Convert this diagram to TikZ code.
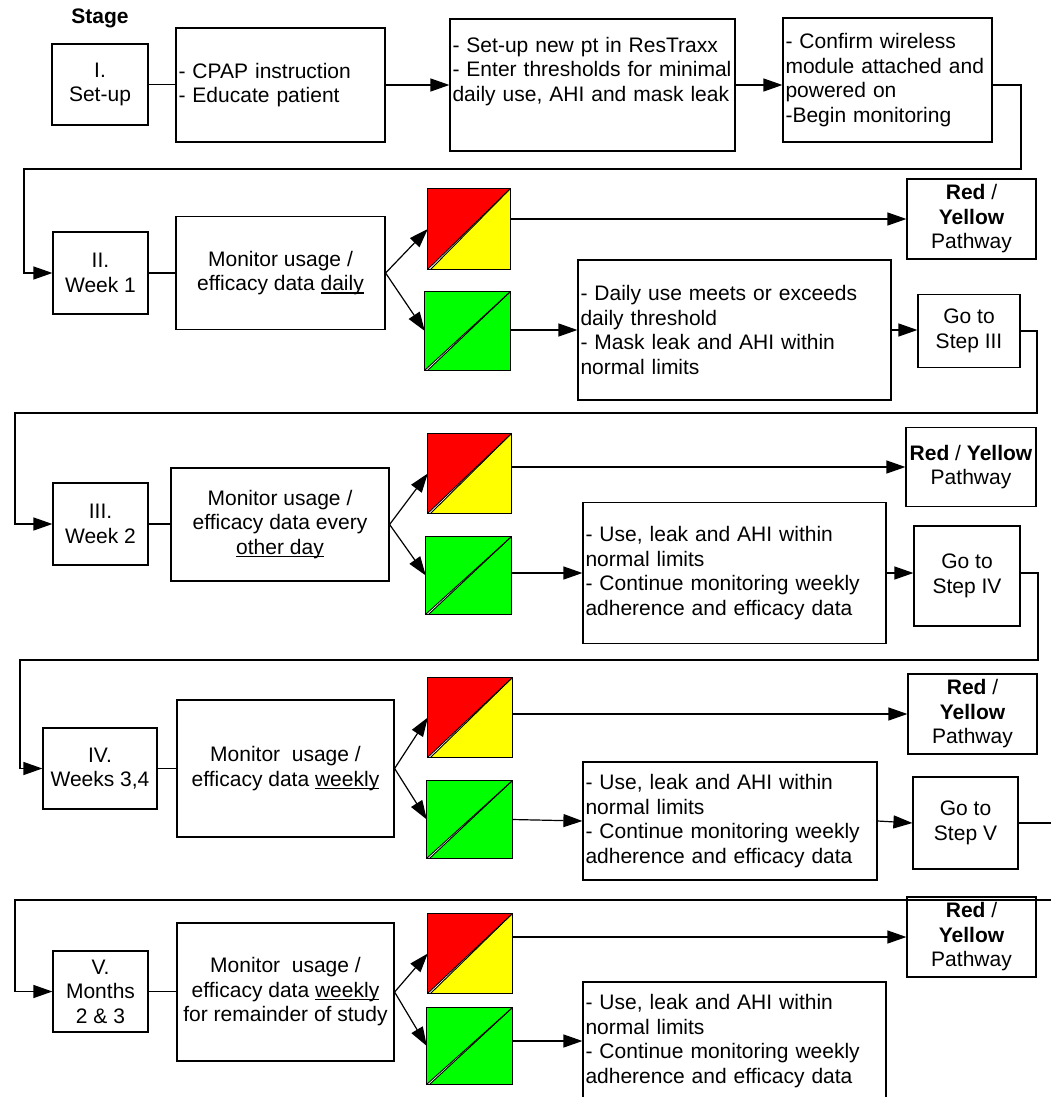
\documentclass[tikz,border=0pt]{standalone}
\usepackage{fontspec}
\setmainfont{Liberation Sans}
\usetikzlibrary{arrows.meta,calc}
\newcommand\myuline[1]{\leavevmode\setbox0\hbox{#1}\rlap{\rule[-3pt]{\wd0}{1.3pt}}\box0}
\newcommand\colsq[7]{%
  \node[inner sep=0pt, minimum width=#4pt, minimum height=#5pt] (#1) at (#2,#3) {};
  \fill[#6] (#1.north west) -- (#1.north east) -- (#1.south west) -- cycle;
  \fill[#7] (#1.north east) -- (#1.south east) -- ($(#1.south west)+(3,0)$) -- cycle;
  \draw[line width=0.9pt] (#1.south west) -- (#1.north east);
  \draw[line width=0.9pt] ($(#1.south west)+(3,0)$) -- (#1.north east);
  \draw[line width=1.2pt] (#1.north west) rectangle (#1.south east);
}
\definecolor{pyellow}{RGB}{255,255,0}
\definecolor{pgreen}{RGB}{0,255,0}
\definecolor{pred}{RGB}{255,0,0}
\tikzset{
  fnt/.style={font=\fontsize{21}{24.5}\selectfont},
  bx/.style={draw, line width=1.2pt, inner sep=0pt, fnt, align=center},
  lbx/.style={draw, line width=1.2pt, inner ysep=0pt, inner xsep=2.5pt, fnt, align=left},
  ln/.style={line width=1.2pt},
  arr/.style={line width=1.2pt, -{Triangle[length=19pt,width=13pt]}},
}
\begin{document}
\begin{tikzpicture}[x=1pt,y=-1pt]
\useasboundingbox (0,0) rectangle (1051,1097);
\clip (0,0) rectangle (1051,1097);
\fill[white] (0,0) rectangle (1051,1097);

% ---------- Row I ----------
\node[fnt, font=\fontsize{21}{24.5}\selectfont\bfseries] (stage) at (100,18) {Stage};
\node[bx, minimum width=96pt, minimum height=81pt] (b1) at (100,84.5) {I.\\Set-up};
\node[lbx, text width=204pt, minimum height=114pt] (c1) at (280.5,85) {- CPAP instruction\\- Educate patient};
\node[lbx, text width=280pt, minimum height=132pt] (d1) at (592.5,85) {- Set-up new pt in ResTraxx\\- Enter thresholds for minimal\\daily use, AHI and mask leak\\\strut};
\node[lbx, text width=204pt, minimum height=124pt] (e1) at (887.5,80) {- Confirm wireless\\module attached and\\powered on\\-Begin monitoring};

\draw[ln] (b1.east) -- (b1.east -| c1.west);
\draw[arr] (c1.east) -- (c1.east -| d1.west);
\draw[arr] (d1.east) -- (d1.east -| e1.west);

% ---------- Row II ----------
\node[bx, minimum width=95pt, minimum height=82pt] (b2) at (100.5,273) {II.\\Week 1};
\node[bx, minimum width=209pt, minimum height=113pt] (m2) at (280.5,273) {Monitor usage /\\efficacy data \myuline{daily}};
\colsq{r2}{469}{229}{82}{80}{pred}{pyellow}
\colsq{g2}{467.5}{331}{85}{78}{pgreen}{pgreen}
\node[bx, minimum width=129pt, minimum height=80pt] (p2) at (971.5,219) {\textbf{Red} /\\\textbf{Yellow}\\Pathway};
\node[lbx, text width=308pt, minimum height=140pt] (t2) at (734.5,330) {- Daily use meets or exceeds\\daily threshold\\- Mask leak and AHI within\\normal limits};
\node[bx, minimum width=102pt, minimum height=73pt] (s2) at (969,331) {Go to\\Step III};

\draw[arr] (e1.east |- d1.east) -- (1021,85) -- (1021,169) -- (24,169) |- (b2.west);
\draw[ln] (b2.east) -- (b2.east -| m2.west);
\draw[arr] (m2.east) -- (r2.west);
\draw[arr] (m2.east) -- (g2.west);
\draw[arr] (r2.east |- p2.west) -- (p2.west);
\draw[arr] (g2.east |- t2.west) -- (t2.west);
\draw[arr] (t2.east) -- (t2.east -| s2.west);

% ---------- Row III ----------
\node[bx, minimum width=95pt, minimum height=82pt] (b3) at (100.5,524) {III.\\Week 2};
\node[bx, minimum width=218pt, minimum height=113pt] (m3) at (280,524.5) {Monitor usage /\\efficacy data every\\\myuline{other day}};
\colsq{r3}{469.5}{473.5}{83}{79}{pred}{pyellow}
\colsq{g3}{468.5}{575.5}{85}{77}{pgreen}{pgreen}
\node[bx, minimum width=130pt, minimum height=79pt] (p3) at (971,467) {\textbf{Red} / \textbf{Yellow}\\Pathway};
\node[lbx, text width=298pt, minimum height=141pt] (t3) at (734.5,573) {- Use, leak and AHI within\\normal limits\\- Continue monitoring weekly\\adherence and efficacy data};
\node[bx, minimum width=106pt, minimum height=100pt] (s3) at (967,576) {Go to\\Step IV};

\draw[arr] (s2.east) -- (1037,331) -- (1037,413) -- (15,413) |- (b3.west);
\draw[ln] (b3.east) -- (b3.east -| m3.west);
\draw[arr] (m3.east) -- (r3.west);
\draw[arr] (m3.east) -- (g3.west);
\draw[arr] (r3.east |- p3.west) -- (p3.west);
\draw[arr] (g3.east |- t3.west) -- (t3.west);
\draw[arr] (t3.east) -- (t3.east -| s3.west);

% ---------- Row IV ----------
\node[bx, minimum width=114pt, minimum height=81pt] (b4) at (100,768.5) {IV.\\Weeks 3,4};
\node[bx, minimum width=217pt, minimum height=137pt] (m4) at (285.5,768.5) {Monitor~ usage /\\efficacy data \myuline{weekly}};
\colsq{r4}{470}{717.5}{84}{79}{pred}{pyellow}
\colsq{g4}{469.5}{819.5}{85}{77}{pgreen}{pgreen}
\node[bx, minimum width=129pt, minimum height=80pt] (p4) at (972.5,714) {\textbf{Red} /\\\textbf{Yellow}\\Pathway};
\node[lbx, text width=289pt, minimum height=118pt] (t4) at (730,821) {- Use, leak and AHI within\\normal limits\\- Continue monitoring weekly\\adherence and efficacy data};
\node[bx, minimum width=105pt, minimum height=92pt] (s4) at (965.5,823) {Go to\\Step V};

\draw[arr] (t3.east -| s3.east) -- (1038,573) -- (1038,660) -- (20,660) |- (b4.west);
\draw[ln] (b4.east) -- (b4.east -| m4.west);
\draw[arr] (m4.east) -- (r4.west);
\draw[arr] (m4.east) -- (g4.west);
\draw[arr] (r4.east |- p4.west) -- (p4.west);
\draw[arr] (g4.east) -- (t4.west);
\draw[arr] (t4.east) -- (s4.west);
\coordinate (out4) at (1060,823);
\draw[ln] (s4.east) -- (out4);

% ---------- Row V ----------
\node[bx, minimum width=95pt, minimum height=81pt] (b5) at (100.5,991.5) {V.\\Months\\2 \& 3};
\node[bx, minimum width=217pt, minimum height=138pt] (m5) at (285.5,992) {Monitor~ usage /\\efficacy data \myuline{weekly}\\for remainder of study};
\colsq{r5}{470}{953.5}{84}{79}{pred}{pyellow}
\colsq{g5}{469.5}{1046}{85}{76}{pgreen}{pgreen}
\node[bx, minimum width=129pt, minimum height=80pt] (p5) at (971.5,937) {\textbf{Red} /\\\textbf{Yellow}\\Pathway};
\node[lbx, text width=298pt, minimum height=118pt] (t5) at (734.5,1041) {- Use, leak and AHI within\\normal limits\\- Continue monitoring weekly\\adherence and efficacy data};

\coordinate (in5) at (1060,900);
\draw[arr] (in5) -- (15,900) |- (b5.west);
\draw[ln] (b5.east) -- (b5.east -| m5.west);
\draw[arr] (m5.east) -- (r5.west);
\draw[arr] (m5.east) -- (g5.west);
\draw[arr] (r5.east |- p5.west) -- (p5.west);
\draw[arr] (g5.east |- t5.west) -- (t5.west);
\end{tikzpicture}
\end{document}
